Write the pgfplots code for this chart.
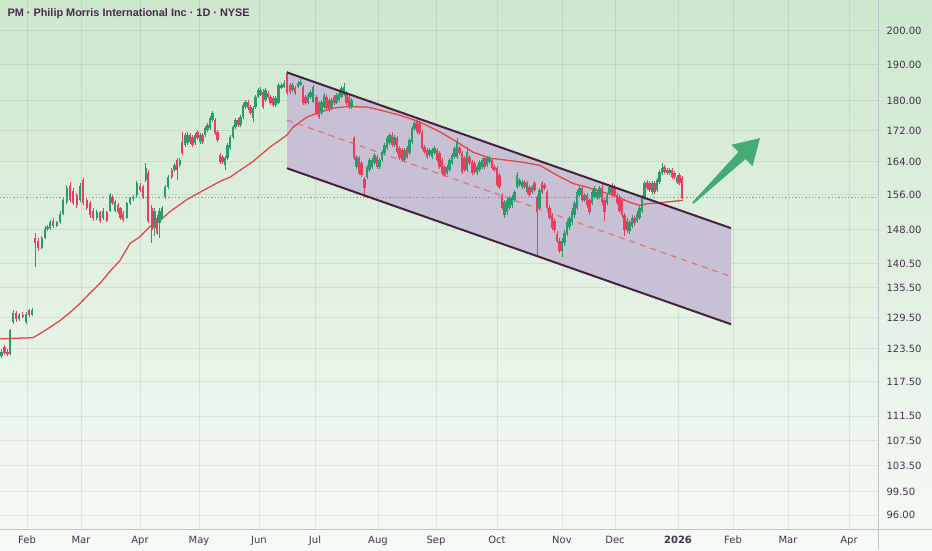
\documentclass[border=0pt]{standalone}
\usepackage{pgfplots}
\pgfplotsset{compat=1.18}
\usepackage{pgfplotstable}
\usepackage{fontspec}
\setmainfont{DejaVu Sans}
\newfontfamily\titlefont{Liberation Sans}
\usetikzlibrary{arrows.meta}

\definecolor{bgtop}{RGB}{205,231,205}
\definecolor{bgbot}{RGB}{246,250,246}
\definecolor{upc}{RGB}{41,155,108}
\definecolor{dnc}{RGB}{230,64,92}
\definecolor{chfill}{RGB}{200,193,214}
\definecolor{chline}{RGB}{70,34,62}
\definecolor{midc}{RGB}{214,128,118}
\definecolor{malc}{RGB}{226,72,72}
\definecolor{pricec}{RGB}{236,110,80}
\definecolor{txt}{RGB}{70,48,78}
\definecolor{ttl}{RGB}{74,40,82}
\definecolor{arrowc}{RGB}{70,170,118}
\definecolor{sepc}{RGB}{190,196,200}

\pgfplotstableread{
x o h l c
1.5 122.2 123.4 121.8 123.0
4.5 123.8 124.2 122.4 122.7
7.5 123.0 123.5 122.1 122.5
10 122.6 127.3 122.3 127.0
13 128.6 131.0 128.2 130.4
16 130.4 130.8 128.6 129.2
19.3 129.2 130.4 128.9 130.0
22.7 130.0 130.5 129.4 129.7
26 128.6 130.6 128.3 130.3
29.3 130.9 131.1 129.7 130.1
32 130.1 131.4 129.9 131.0
35 146.0 147.3 139.8 145.1
38.3 145.5 146.0 143.3 143.8
41.7 144.0 146.6 143.6 146.2
45 146.2 148.7 145.8 148.2
47.5 148.2 149.0 147.6 148.5
50 148.4 150.1 148.0 149.6
53.3 150.0 150.5 148.4 148.9
56.7 148.9 150.0 148.5 149.6
60 149.6 152.1 149.2 151.6
63.3 151.6 155.2 151.3 154.7
66.7 154.2 158.3 153.8 157.5
70 158.2 159.0 154.2 154.7
73.3 157.0 157.6 153.6 154.0
76.7 155.9 156.4 153.0 153.5
80 154.7 158.8 154.2 158.2
83.3 159.5 160.1 153.6 154.0
86.7 154.7 155.3 152.4 152.8
90 154.0 154.5 150.7 151.2
93.3 152.3 152.8 150.0 150.5
96.7 150.5 152.4 150.1 151.9
100 151.9 152.3 149.5 150.0
103.3 150.5 152.8 150.1 152.3
106.7 151.9 152.3 149.6 150.0
110 152.3 156.4 151.9 155.9
112.5 155.4 156.0 153.6 154.0
115 152.3 154.7 151.9 154.2
118 153.5 154.0 151.5 151.9
120.5 152.8 153.2 150.2 150.7
123.3 151.6 152.1 149.8 150.2
126.7 150.7 154.4 150.3 154.0
130 154.0 155.6 153.6 155.2
133.3 154.9 156.0 154.5 155.4
136.7 155.9 159.2 155.5 158.7
140 158.2 158.8 156.7 157.1
143.3 157.8 158.3 155.0 155.4
145.7 159.5 163.7 159.0 162.4
148.3 161.2 162.0 149.5 150.0
151.7 153.0 153.5 145.1 147.8
154.5 148.4 152.8 146.5 152.3
157 150.7 151.3 146.8 147.3
159.5 149.4 152.8 146.2 152.3
162 150.7 153.4 150.3 153.0
165 155.4 158.3 155.0 157.8
168.3 157.8 160.7 157.4 160.2
171.7 161.9 162.4 159.8 160.2
174.5 161.9 163.6 161.5 163.1
177 164.4 164.9 159.5 161.9
179.7 163.1 164.9 162.7 164.4
182.3 169.0 171.5 165.6 166.2
185 168.2 171.3 167.7 170.8
187.5 168.7 171.5 168.2 170.8
190 170.8 171.3 168.5 169.0
192.5 170.3 170.8 167.7 168.2
195 168.7 171.3 168.2 170.8
197.5 171.6 172.2 169.5 170.0
200 169.0 171.3 168.5 170.8
202.5 170.8 171.3 168.5 169.0
205 170.8 173.1 170.3 172.6
207.5 172.1 173.9 171.7 173.4
210 172.6 175.7 172.2 175.2
212.5 174.7 177.1 174.3 176.6
215 174.7 175.3 170.9 171.3
217.5 171.6 172.1 169.0 169.5
220 165.7 166.2 163.4 163.9
222.5 165.2 165.7 163.5 163.9
225 163.1 165.4 162.0 164.9
227.5 164.9 168.7 164.5 168.2
230 167.4 170.8 167.0 170.3
233 170.3 173.3 169.8 172.8
235.5 172.8 175.2 172.4 174.7
238 174.7 175.2 172.9 173.4
240.5 173.4 176.0 173.0 175.5
243 175.5 179.2 175.1 178.7
245.5 178.2 180.0 177.8 179.5
248 179.5 180.1 177.5 178.0
250.5 178.2 178.7 176.1 176.6
253 175.2 178.4 174.2 177.9
255.5 178.2 181.5 177.8 181.0
258 181.0 183.4 180.6 182.9
260.5 181.5 183.6 181.1 182.9
263 182.4 183.2 177.8 178.2
265.5 180.1 183.4 179.7 182.9
268 182.1 182.6 180.5 181.0
270.5 181.0 181.5 178.8 179.3
273 180.6 181.1 178.2 178.7
275.5 178.7 181.1 178.2 180.6
278.5 179.3 184.8 178.9 184.3
281.5 183.5 184.8 183.1 184.3
284 183.8 185.7 183.4 184.9
287 187.6 188.2 181.6 182.1
290 184.3 184.8 181.9 182.4
292.5 182.9 184.8 182.4 184.3
295 183.4 183.9 181.6 182.1
298 183.8 185.4 183.4 184.9
300.5 184.3 185.9 183.9 185.2
303 183.8 184.3 178.8 179.3
305.5 181.0 181.5 178.8 179.3
308 179.3 182.0 178.9 181.5
310.5 181.0 182.9 180.5 182.4
313 179.6 184.3 179.2 183.8
316.5 181.0 181.5 176.1 176.6
319 179.3 179.8 175.0 175.5
321.5 176.6 180.1 176.1 179.6
324 178.2 182.0 177.8 181.5
326.5 181.0 181.5 177.5 177.9
329 180.1 180.6 176.9 177.4
331.5 177.9 180.6 177.5 180.1
334 181.0 181.5 178.8 179.3
336.5 179.3 182.0 178.9 181.5
339 180.1 182.6 179.7 182.1
341.5 181.0 184.0 180.6 183.5
344 181.5 184.8 181.1 183.8
346.5 182.1 182.6 178.8 179.3
349 181.0 181.5 177.7 178.2
351.5 178.2 180.6 177.8 180.1
354 170.0 170.5 164.4 164.9
356.5 162.7 165.7 162.2 165.2
359 164.9 165.4 160.7 161.2
361.5 163.6 164.1 160.2 160.7
364.5 159.8 160.3 155.4 157.5
367 160.2 163.2 159.8 162.7
369.5 161.9 164.9 161.5 164.4
372 162.7 164.9 162.2 164.4
374.5 163.6 166.2 163.2 165.7
377 165.2 165.7 162.2 162.7
379.5 162.7 164.9 162.3 164.4
382 164.4 166.9 164.0 166.4
384.5 166.2 168.7 165.8 168.2
387 167.4 170.5 167.0 170.0
389.5 168.7 171.3 168.3 170.8
392 170.8 171.6 167.7 168.2
394.5 168.2 170.8 167.8 170.3
397 170.0 170.5 165.9 166.4
399.5 167.4 167.9 164.4 164.9
402 166.9 167.4 163.9 164.4
404.5 164.4 167.4 164.0 166.9
407 167.4 167.9 164.7 165.2
409.5 166.2 170.0 165.7 169.5
412 169.0 173.1 168.5 172.6
414.5 172.3 174.4 171.9 173.9
417 174.7 175.4 171.1 171.6
419.5 173.9 174.4 170.8 171.3
422 171.6 172.1 166.9 167.4
424.5 167.7 168.2 165.9 166.4
427 166.9 167.4 164.7 165.2
429.5 165.7 167.4 165.2 166.9
432 165.2 167.4 164.7 166.9
434.5 166.2 167.9 165.7 167.4
437 166.9 167.4 163.9 164.4
439.5 166.2 166.7 162.2 162.7
442 164.4 164.9 160.7 161.2
444.5 162.7 163.2 160.2 160.7
447 161.2 163.2 160.7 162.7
449.5 161.9 164.9 161.5 164.4
452 163.6 166.2 163.2 165.7
454.5 165.2 167.9 164.7 167.4
457 165.2 170.0 164.7 168.9
459.5 167.4 167.9 165.7 166.2
462 166.2 166.7 160.9 161.4
464.5 164.9 165.4 161.4 161.9
467 161.9 167.7 161.4 166.4
469.5 165.2 165.7 163.1 163.6
472 163.9 164.4 160.7 161.2
474.5 163.6 164.1 160.9 161.4
477 161.2 163.2 160.7 162.7
479.5 161.9 164.4 161.5 163.9
482 162.7 164.9 162.2 164.4
484.5 164.9 165.4 162.2 162.7
487 163.1 165.4 162.7 164.9
489.5 163.9 165.4 163.4 164.9
492 164.4 164.9 162.0 162.5
494.5 162.7 163.2 161.4 161.9
497 162.5 163.0 157.8 158.3
499.5 160.7 161.2 157.3 157.8
502 155.9 156.4 152.5 153.0
504.5 151.2 154.7 150.7 154.2
507 151.9 155.2 151.4 154.7
509.5 153.0 155.7 152.5 155.2
512 153.5 155.9 153.0 155.4
514.5 154.7 157.1 154.2 156.6
517 157.8 161.5 157.3 160.7
519.5 158.3 160.0 157.8 159.5
522 157.8 159.5 157.3 159.0
524.5 159.0 159.5 157.3 157.8
527 156.6 159.3 156.1 158.8
529.5 157.8 158.3 155.4 155.9
532 156.6 158.3 156.1 157.8
534.5 158.8 159.3 156.6 157.1
537 155.4 155.9 142.3 151.9
539.5 153.0 157.6 152.5 157.1
542 158.8 159.3 156.1 156.6
544.5 158.3 158.8 157.1 157.6
547 156.6 157.1 152.5 153.0
549.5 153.0 153.5 150.2 150.7
552 151.2 151.7 147.9 148.4
554.5 150.0 150.5 147.3 147.8
557 147.1 147.6 145.0 145.5
559.5 145.5 146.0 142.9 143.3
562 143.3 146.0 141.9 145.5
564.5 144.9 147.8 144.4 147.3
567 147.1 150.1 146.6 149.6
569.5 148.5 151.0 148.0 150.5
572 149.6 152.8 149.1 152.3
574.5 151.2 154.5 150.7 154.0
577 153.0 157.1 152.5 156.6
579.5 155.9 158.1 155.4 157.6
582 157.6 158.1 154.2 154.7
584.5 154.7 156.4 154.2 155.9
587 155.9 156.4 153.0 153.5
589.5 154.7 155.2 151.4 151.9
592 154.0 157.1 153.5 156.6
594.5 155.4 158.1 155.0 157.6
597 155.2 157.1 154.7 156.6
599.5 155.4 158.1 155.0 157.6
602 157.6 158.6 153.7 154.2
604.5 154.7 155.2 150.0 151.9
607 154.0 156.4 153.5 155.9
609.5 156.4 158.3 155.9 157.8
612 158.3 158.8 155.4 155.9
614.5 157.8 158.3 155.4 155.9
617 155.9 156.4 153.5 154.0
619.5 155.4 155.9 151.8 152.3
622 154.7 155.2 150.7 151.2
624.5 151.2 151.7 146.6 147.8
627 150.0 150.5 147.3 147.8
629.5 147.6 150.1 147.1 149.6
632 148.9 151.2 148.4 150.7
634.5 150.5 151.0 148.9 149.4
637 150.0 152.1 149.5 151.6
639.5 150.7 153.5 150.2 153.0
642 152.3 155.9 151.8 155.4
644.5 155.2 159.3 154.7 158.8
647 159.0 159.5 157.1 157.6
649.5 158.8 159.3 156.6 157.1
652 156.6 159.3 156.1 158.8
654.5 158.8 159.3 156.1 156.6
657 157.1 160.0 156.6 159.5
659.5 159.0 161.9 158.5 161.4
662 161.2 163.7 160.7 162.5
664.5 162.7 163.2 160.9 161.4
667 161.9 162.4 160.7 161.2
669.5 161.2 162.4 160.7 161.9
672 161.9 162.4 159.7 160.2
674.5 161.2 161.7 159.7 160.2
677 159.0 160.7 158.5 160.2
679.5 160.7 161.2 158.3 158.8
682 160.0 160.5 154.9 155.2
}\candles

\pgfplotstableread{
x ma
0 125.4
33 125.6
40 126.4
50 127.6
60 128.9
70 130.5
80 132.3
90 134.4
100 136.4
110 138.9
120 141.2
130 144.9
140 146.4
150 148.7
160 150.0
170 152.1
180 153.7
187 154.9
200 156.6
220 159.2
230 160.2
253 164.1
270 167.7
280 169.5
287 170.8
293 172.8
300 174.2
307 175.5
320 176.8
333 177.9
347 178.3
367 178.2
380 177.4
400 176.0
420 174.2
440 171.6
457 169.0
473 166.4
490 164.9
507 164.4
523 163.9
540 163.1
557 160.7
573 158.7
590 157.6
613 155.9
630 154.2
640 153.5
647 153.9
663 154.2
683 154.7
}\mavg

\begin{document}
\begin{tikzpicture}
\path[use as bounding box] (0pt,-21pt) rectangle (932pt,529pt);
\shade[top color=bgtop, bottom color=bgbot] (0pt,-21pt) rectangle (932pt,529pt);
\begin{axis}[
  width=878pt, height=529pt, scale only axis,
  xmin=0, xmax=878,
  ymode=log, ymin=93.99, ymax=209.6,
  axis line style={draw=none}, tick style={draw=none},
  xtick={27,81,140,199,259,315,378,436,497,562,615,678,733,788,849},
  xticklabels={Feb,Mar,Apr,May,Jun,Jul,Aug,Sep,Oct,Nov,Dec,\textbf{2026},Feb,Mar,Apr},
  ytick={96,99.5,103.5,107.5,111.5,117.5,123.5,129.5,135.5,140.5,148,156,164,172,180,190,200},
  yticklabels={96.00,99.50,103.50,107.50,111.50,117.50,123.50,129.50,135.50,140.50,148.00,156.00,164.00,172.00,180.00,190.00,200.00},
  yticklabel pos=right,
  grid=major,
  major grid style={draw=black, draw opacity=0.07, line width=0.9pt},
  tick label style={font=\fontsize{10}{12}\selectfont, text=txt},
  yticklabel style={anchor=west, xshift=5pt},
  xticklabel style={yshift=-3.5pt},
]
% channel fill
\addplot[fill=chfill, draw=none, forget plot] coordinates {(287,187.8) (731,148.3) (731,128.2) (287,162.4)} -- cycle;
% channel midline
\addplot[midc, line width=1.3pt, dash pattern=on 6pt off 5pt, forget plot] coordinates {(287,174.7) (731,137.8)};
% moving average
\addplot[malc, line width=1.3pt, forget plot] table[x=x, y=ma] {\mavg};
% last price line
\addplot[pricec, line width=1pt, dash pattern=on 1.3pt off 2pt, forget plot] coordinates {(0,155.3) (878,155.3)};
% up candles: wicks and bodies
\addplot[draw=none, mark=none, forget plot,
  restrict expr to domain={\thisrow{c}-\thisrow{o}}{0:1000},
  error bars/.cd, y dir=plus, y explicit, error mark=none,
  error bar style={draw=upc, line width=0.8pt}]
  table[x=x, y=l, y error plus expr={\thisrow{h}-\thisrow{l}}] {\candles};
\addplot[draw=none, mark=none, forget plot,
  restrict expr to domain={\thisrow{c}-\thisrow{o}}{0:1000},
  error bars/.cd, y dir=plus, y explicit, error mark=none,
  error bar style={draw=upc, line width=2.2pt}]
  table[x=x, y=o, y error plus expr={max(\thisrow{c}-\thisrow{o},0.2)}] {\candles};
% down candles
\addplot[draw=none, mark=none, forget plot,
  restrict expr to domain={\thisrow{c}-\thisrow{o}}{-1000:-0.001},
  error bars/.cd, y dir=plus, y explicit, error mark=none,
  error bar style={draw=dnc, line width=0.8pt}]
  table[x=x, y=l, y error plus expr={\thisrow{h}-\thisrow{l}}] {\candles};
\addplot[draw=none, mark=none, forget plot,
  restrict expr to domain={\thisrow{c}-\thisrow{o}}{-1000:-0.001},
  error bars/.cd, y dir=plus, y explicit, error mark=none,
  error bar style={draw=dnc, line width=2.2pt}]
  table[x=x, y=c, y error plus expr={\thisrow{o}-\thisrow{c}}] {\candles};
% channel borders
\addplot[chline, line width=2pt, forget plot] coordinates {(287,187.8) (731,148.3)};
\addplot[chline, line width=2pt, forget plot] coordinates {(287,162.4) (731,128.2)};
% arrow
\addplot[fill=arrowc, draw=none, forget plot] coordinates {(692.3,154.2) (738.5,166.5) (731.5,168.3) (760,170.0) (752.5,162.9) (745.5,164.7) (693.7,153.9)} -- cycle;
\end{axis}
\draw[sepc, line width=1pt] (878pt,-21pt) -- (878pt,529pt);
\draw[sepc, line width=1pt] (0pt,0pt) -- (932pt,0pt);
\node[anchor=base west, inner sep=0pt, text=ttl, font=\titlefont\bfseries\fontsize{10.9}{13}\selectfont] at (7.3pt,512.3pt) {PM · Philip Morris International Inc · 1D · NYSE};
\end{tikzpicture}
\end{document}
